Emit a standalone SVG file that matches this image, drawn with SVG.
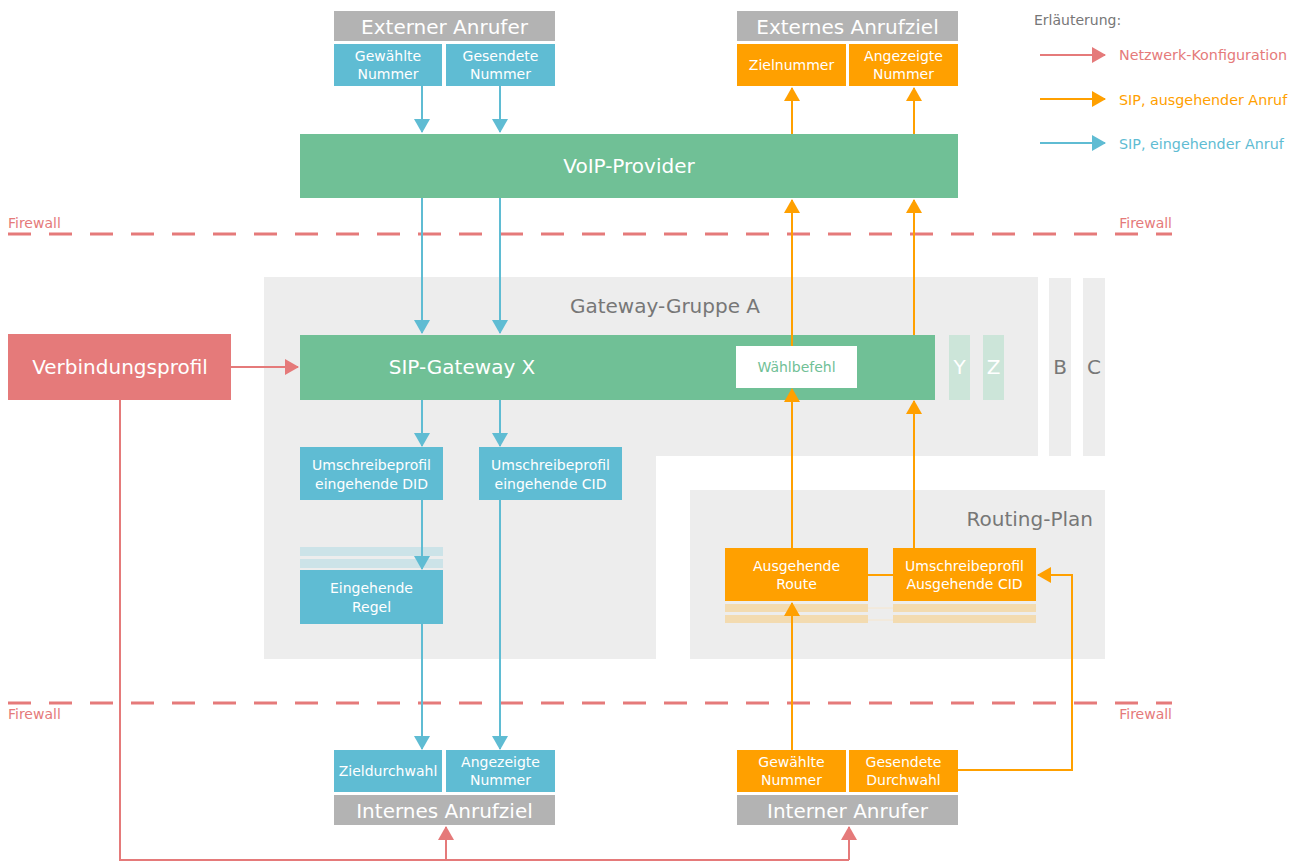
<svg xmlns="http://www.w3.org/2000/svg" width="1301" height="861" viewBox="0 0 1301 861">
<style>
text{font-family:"DejaVu Sans","Noto Sans",sans-serif}
.hd{fill:#b3b3b3}
.hdt{fill:#fff;font-size:20px;text-anchor:middle}
.bl{fill:#5fbcd3}
.or{fill:#ffa000}
.gr{fill:#70c096}
.st{fill:#fff;font-size:14px;text-anchor:middle}
.bg{fill:#ededed}
.lb{stroke:#5fbcd3;stroke-width:2;fill:none}
.lo{stroke:#ffa000;stroke-width:2;fill:none}
.lr{stroke:#e57a7a;stroke-width:2;fill:none}
.fw{stroke:#e57a7a;stroke-width:3;stroke-dasharray:23 18;fill:none}
.fwt{fill:#e57a7a;font-size:14px}
.gt{fill:#777;font-size:20px}
</style>
<defs>
<marker id="ab" viewBox="0 0 14 16" refX="13" refY="8" markerWidth="14" markerHeight="16" markerUnits="userSpaceOnUse" orient="auto"><path d="M0,0L14,8L0,16z" fill="#5fbcd3"/></marker>
<marker id="ao" viewBox="0 0 14 16" refX="13" refY="8" markerWidth="14" markerHeight="16" markerUnits="userSpaceOnUse" orient="auto"><path d="M0,0L14,8L0,16z" fill="#ffa000"/></marker>
<marker id="ar" viewBox="0 0 14 16" refX="13" refY="8" markerWidth="14" markerHeight="16" markerUnits="userSpaceOnUse" orient="auto"><path d="M0,0L14,8L0,16z" fill="#e57a7a"/></marker>
</defs>
<rect width="1301" height="861" fill="#fff"/>

<g id="firewalls">
<line class="fw" x1="8" y1="234" x2="1172" y2="234"/>
<text class="fwt" x="8" y="228">Firewall</text>
<text class="fwt" x="1172" y="228" text-anchor="end">Firewall</text>
<line class="fw" x1="8" y1="703" x2="1172" y2="703"/>
<text class="fwt" x="8" y="719">Firewall</text>
<text class="fwt" x="1172" y="719" text-anchor="end">Firewall</text>
</g>

<g id="gateway-gruppe-a">
<path class="bg" d="M264,277H1038V456H656V659H264Z"/>
<text class="gt" x="665" y="313" text-anchor="middle">Gateway-Gruppe A</text>
</g>
<g id="gateway-y"><rect x="949" y="335" width="21" height="65" fill="#cce5d9"/><text x="959.5" y="374" fill="#fff" font-size="20" text-anchor="middle">Y</text></g>
<g id="gateway-z"><rect x="983" y="335" width="21" height="65" fill="#cce5d9"/><text x="993.5" y="374" fill="#fff" font-size="20" text-anchor="middle">Z</text></g>
<g id="gruppe-b"><rect class="bg" x="1049" y="278" width="22" height="178"/><text class="gt" x="1060" y="374" text-anchor="middle">B</text></g>
<g id="gruppe-c"><rect class="bg" x="1083" y="278" width="22" height="178"/><text class="gt" x="1094" y="374" text-anchor="middle">C</text></g>

<g id="routing-plan">
<rect class="bg" x="690" y="490" width="415" height="169"/>
<text class="gt" x="1093" y="526" text-anchor="end">Routing-Plan</text>
</g>

<g id="externer-anrufer">
<rect class="hd" x="334" y="11" width="221" height="30"/>
<text class="hdt" x="444.5" y="34">Externer Anrufer</text>
<rect class="bl" x="334" y="44" width="108" height="42"/>
<text class="st" x="388" y="61">Gewählte</text><text class="st" x="388" y="79">Nummer</text>
<rect class="bl" x="446" y="44" width="109" height="42"/>
<text class="st" x="500.5" y="61">Gesendete</text><text class="st" x="500.5" y="79">Nummer</text>
</g>

<g id="externes-anrufziel">
<rect class="hd" x="737" y="11" width="221" height="30"/>
<text class="hdt" x="847.5" y="34">Externes Anrufziel</text>
<rect class="or" x="737" y="44" width="109" height="42"/>
<text class="st" x="791.5" y="70">Zielnummer</text>
<rect class="or" x="849" y="44" width="109" height="42"/>
<text class="st" x="903.5" y="61">Angezeigte</text><text class="st" x="903.5" y="79">Nummer</text>
</g>

<g id="voip-provider">
<rect class="gr" x="300" y="134" width="658" height="64"/>
<text class="hdt" x="629" y="173">VoIP-Provider</text>
</g>

<g id="sip-gateway-x">
<rect class="gr" x="300" y="335" width="635" height="65"/>
<text class="hdt" x="462" y="374">SIP-Gateway X</text>
<rect x="736" y="346" width="121" height="42" fill="#fff"/>
<text x="796.5" y="372" fill="#70c096" font-size="14" text-anchor="middle">Wählbefehl</text>
</g>

<g id="verbindungsprofil">
<rect x="8" y="334" width="223" height="66" fill="#e57a7a"/>
<text class="hdt" x="120" y="374">Verbindungsprofil</text>
</g>

<g id="umschreibeprofil-did">
<rect class="bl" x="300" y="447" width="143" height="53"/>
<text class="st" x="371.5" y="470">Umschreibeprofil</text><text class="st" x="371.5" y="489">eingehende DID</text>
</g>
<g id="umschreibeprofil-cid">
<rect class="bl" x="479" y="447" width="143" height="53"/>
<text class="st" x="550.5" y="470">Umschreibeprofil</text><text class="st" x="550.5" y="489">eingehende CID</text>
</g>
<g id="eingehende-regel">
<rect x="300" y="547" width="143" height="9" fill="#cce3e8"/>
<rect x="300" y="559" width="143" height="9" fill="#cce3e8"/>
<rect class="bl" x="300" y="570" width="143" height="54"/>
<text class="st" x="371.5" y="593">Eingehende</text><text class="st" x="371.5" y="612">Regel</text>
</g>

<g id="ausgehende-route">
<rect x="725" y="604" width="143" height="8" fill="#f3dbb0"/>
<rect x="725" y="615" width="143" height="8" fill="#f3dbb0"/>
<rect class="or" x="725" y="548" width="143" height="53"/>
<text class="st" x="796.5" y="571">Ausgehende</text><text class="st" x="796.5" y="589">Route</text>
</g>
<g id="umschreibeprofil-ausgehende-cid">
<rect x="893" y="604" width="143" height="8" fill="#f3dbb0"/>
<rect x="893" y="615" width="143" height="8" fill="#f3dbb0"/>
<rect class="or" x="893" y="548" width="143" height="53"/>
<text class="st" x="964.5" y="571">Umschreibeprofil</text><text class="st" x="964.5" y="589">Ausgehende CID</text>
</g>

<g id="internes-anrufziel">
<rect class="bl" x="334" y="750" width="108" height="42"/>
<text class="st" x="388" y="776">Zieldurchwahl</text>
<rect class="bl" x="446" y="750" width="109" height="42"/>
<text class="st" x="500.5" y="767">Angezeigte</text><text class="st" x="500.5" y="785">Nummer</text>
<rect class="hd" x="334" y="795" width="221" height="30"/>
<text class="hdt" x="444.5" y="818">Internes Anrufziel</text>
</g>

<g id="interner-anrufer">
<rect class="or" x="737" y="750" width="109" height="42"/>
<text class="st" x="791.5" y="767">Gewählte</text><text class="st" x="791.5" y="785">Nummer</text>
<rect class="or" x="849" y="750" width="109" height="42"/>
<text class="st" x="903.5" y="767">Gesendete</text><text class="st" x="903.5" y="785">Durchwahl</text>
<rect class="hd" x="737" y="795" width="221" height="30"/>
<text class="hdt" x="847.5" y="818">Interner Anrufer</text>
</g>

<g id="connectors">
<line class="lb" x1="422" y1="86" x2="422" y2="132" marker-end="url(#ab)"/>
<line class="lb" x1="500" y1="86" x2="500" y2="132" marker-end="url(#ab)"/>
<line class="lb" x1="422" y1="198" x2="422" y2="333" marker-end="url(#ab)"/>
<line class="lb" x1="500" y1="198" x2="500" y2="333" marker-end="url(#ab)"/>
<line class="lb" x1="422" y1="400" x2="422" y2="446" marker-end="url(#ab)"/>
<line class="lb" x1="500" y1="400" x2="500" y2="446" marker-end="url(#ab)"/>
<line class="lb" x1="422" y1="500" x2="422" y2="569" marker-end="url(#ab)"/>
<line class="lb" x1="422" y1="624" x2="422" y2="749" marker-end="url(#ab)"/>
<line class="lb" x1="500" y1="500" x2="500" y2="749" marker-end="url(#ab)"/>

<line class="lo" x1="792" y1="134" x2="792" y2="88" marker-end="url(#ao)"/>
<line class="lo" x1="914" y1="134" x2="914" y2="88" marker-end="url(#ao)"/>
<line class="lo" x1="792" y1="346" x2="792" y2="200" marker-end="url(#ao)"/>
<line class="lo" x1="914" y1="335" x2="914" y2="200" marker-end="url(#ao)"/>
<line class="lo" x1="792" y1="548" x2="792" y2="389" marker-end="url(#ao)"/>
<line class="lo" x1="914" y1="548" x2="914" y2="401" marker-end="url(#ao)"/>
<line class="lo" x1="792" y1="750" x2="792" y2="603" marker-end="url(#ao)"/>
<line class="lo" x1="868" y1="575" x2="893" y2="575"/>
<line x1="868" y1="608" x2="893" y2="608" stroke="#f7e6cc" stroke-width="1"/>
<line x1="868" y1="620" x2="893" y2="620" stroke="#f7e6cc" stroke-width="1"/>
<polyline class="lo" points="958,770 1072,770 1072,575 1038,575" marker-end="url(#ao)"/>

<line class="lr" x1="231" y1="367" x2="298" y2="367" marker-end="url(#ar)"/>
<polyline class="lr" points="120,400 120,860 849,860"/>
<line class="lr" x1="446" y1="860" x2="446" y2="827" marker-end="url(#ar)"/>
<line class="lr" x1="849" y1="860" x2="849" y2="827" marker-end="url(#ar)"/>
</g>

<g id="legende">
<text x="1034" y="25" fill="#777" font-size="14">Erläuterung:</text>
<line class="lr" x1="1040" y1="55" x2="1105" y2="55" marker-end="url(#ar)"/>
<text x="1119" y="60" fill="#e57a7a" font-size="14.3">Netzwerk-Konfiguration</text>
<line class="lo" x1="1040" y1="99" x2="1105" y2="99" marker-end="url(#ao)"/>
<text x="1119" y="105" fill="#ffa000" font-size="14.3">SIP, ausgehender Anruf</text>
<line class="lb" x1="1040" y1="143" x2="1105" y2="143" marker-end="url(#ab)"/>
<text x="1119" y="149" fill="#5fbcd3" font-size="14.3">SIP, eingehender Anruf</text>
</g>
</svg>
